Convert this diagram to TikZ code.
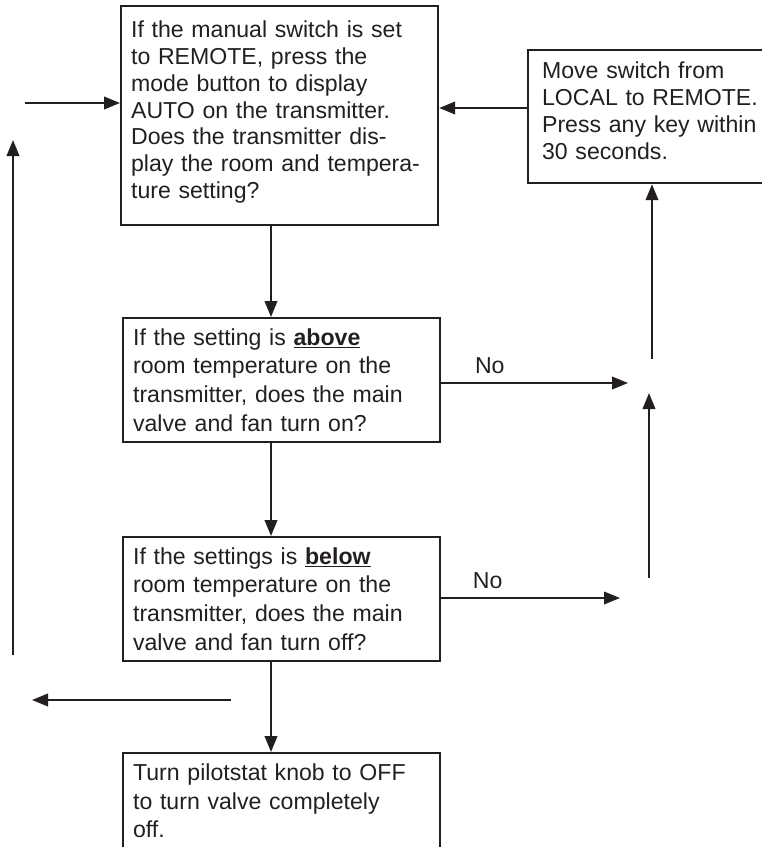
\documentclass[tikz,border=0pt]{standalone}
\usepackage{fontspec}
\setmainfont{Liberation Sans}
\usetikzlibrary{arrows.meta}
\definecolor{ink}{RGB}{35,31,32}

\begin{document}
\begin{tikzpicture}[x=1pt,y=-1pt,color=ink,line width=2.2pt,
  >={Triangle[length=16pt,width=12.5pt]},
  box/.style={draw,anchor=north west,align=left,inner xsep=10pt,inner ysep=0pt,
    text width=297pt,minimum height=124pt,font=\fontsize{23.1pt}{28.8pt}\selectfont},
  no/.style={above=5pt,pos=0.26,font=\fontsize{23.1pt}{28pt}\selectfont}]
  \useasboundingbox (0,0) rectangle (762,847);
  \clip (0,0) rectangle (762,847);
  % the boxes
  \node[box,minimum height=219pt,text depth=172pt,font=\fontsize{23.1pt}{26.7pt}\selectfont] (check) at (120,5)
    {If the manual switch is set\\ to REMOTE, press the\\ mode button to display\\
     AUTO on the transmitter.\\ Does the transmitter dis-\\ play the room and tempera-\\ ture setting?};
  \node[box] (heat) at (122,317)
    {If the setting is \underline{\textbf{above}}\\ room temperature on the\\
     transmitter, does the main\\ valve and fan turn on?};
  \node[box] (cool) at (122,536)
    {If the settings is \underline{\textbf{below}}\\ room temperature on the\\
     transmitter, does the main\\ valve and fan turn off?};
  \node[box,inner ysep=10.5pt,text depth=120pt,font=\fontsize{23.1pt}{28.7pt}\selectfont] (shutoff) at (122,752)
    {Turn pilotstat knob to OFF\\ to turn valve completely\\ off.};
  \node[box,inner xsep=14pt,text width=252pt,minimum height=133pt,text depth=92pt,font=\fontsize{23.1pt}{26.7pt}\selectfont] (remote) at (527,49)
    {Move switch from\\ LOCAL to REMOTE.\\ Press any key within\\ 30 seconds.};
  % main line down
  \coordinate (spine) at (271,0);
  \draw[->] (check.south -| spine) -- (heat.north -| spine);
  \draw[->] (heat.south -| spine) -- (cool.north -| spine);
  \draw[->] (cool.south -| spine) -- (shutoff.north -| spine);
  % the No branches
  \coordinate (gapA) at (628,383);
  \coordinate (gapB) at (620,598);
  \draw[->] (heat.east |- gapA) -- (gapA) node[no] {No};
  \draw[->] (cool.east |- gapB) -- (gapB) node[no] {No};
  \coordinate (riseA) at (649,578);
  \coordinate (riseB) at (649,393);
  \draw[->] (riseA) -- (riseB);
  \coordinate (rise) at (652,359);
  \draw[->] (rise) -- (remote.south -| rise);
  \coordinate (back) at (0,108);
  \draw[->] (remote.west |- back) -- (check.east |- back);
  % left side
  \coordinate (enter) at (25,103);
  \draw[->] (enter) -- (check.west |- enter);
  \coordinate (loopA) at (13,655);
  \coordinate (loopB) at (13,140);
  \draw[->] (loopA) -- (loopB);
  \coordinate (exitA) at (231,700);
  \coordinate (exitB) at (32,700);
  \draw[->] (exitA) -- (exitB);
\end{tikzpicture}
\end{document}
